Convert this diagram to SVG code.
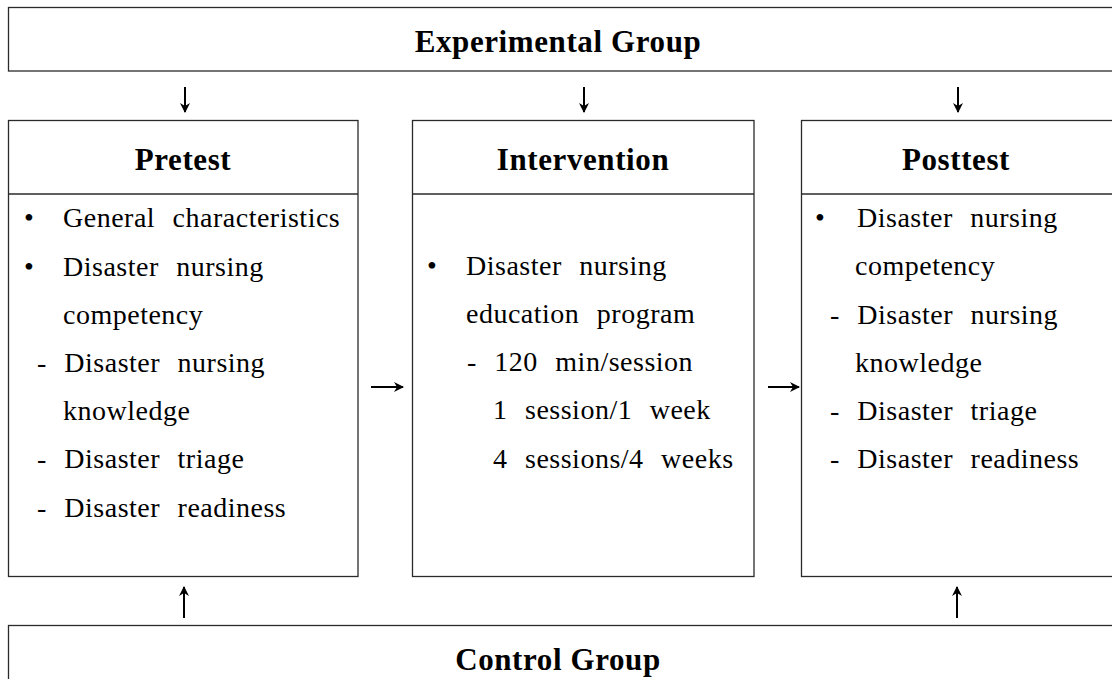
<svg xmlns="http://www.w3.org/2000/svg" width="1112" height="679" viewBox="0 0 1112 679">
<style>
.box{fill:#fff;stroke:#2a2a2a;stroke-width:1.3}
.div{stroke:#2a2a2a;stroke-width:1.3}
.hd{font-family:"Liberation Serif",serif;font-weight:bold;font-size:31px;letter-spacing:0.6px;fill:#000;text-anchor:middle}
.tx{font-family:"Liberation Serif",serif;font-size:28px;fill:#000;letter-spacing:0.5px;word-spacing:10px}
.bl{font-family:"Liberation Serif",serif;font-size:28px;fill:#000}
.arr{stroke:#000;stroke-width:2;fill:none;marker-end:url(#ah)}
</style>
<defs>
<marker id="ah" viewBox="0 0 10 10" refX="9" refY="5" markerWidth="5" markerHeight="5" orient="auto" markerUnits="strokeWidth">
<path d="M0,0 L10,5 L0,10 L3,5 Z" fill="#000"/>
</marker>
</defs>
<rect width="1112" height="679" fill="#fff"/>
<g id="experimental-group">
<rect class="box" x="8.5" y="7.5" width="1110" height="63.5"/>
<text class="hd" x="558" y="52">Experimental Group</text>
</g>
<g id="pretest">
<rect class="box" x="8.5" y="120.5" width="349.5" height="456"/>
<line class="div" x1="8.5" y1="194" x2="358" y2="194"/>
<text class="hd" x="183" y="170">Pretest</text>
<text class="bl" x="24" y="227">•</text>
<text class="tx" x="63" y="227">General characteristics</text>
<text class="bl" x="24" y="276">•</text>
<text class="tx" x="63" y="276">Disaster nursing</text>
<text class="tx" x="63" y="324">competency</text>
<text class="tx" x="37" y="372">- Disaster nursing</text>
<text class="tx" x="63" y="420">knowledge</text>
<text class="tx" x="37" y="468">- Disaster triage</text>
<text class="tx" x="37" y="517">- Disaster readiness</text>
</g>
<g id="intervention">
<rect class="box" x="412.5" y="120.5" width="341.5" height="456"/>
<line class="div" x1="412.5" y1="194" x2="754" y2="194"/>
<text class="hd" x="583" y="170">Intervention</text>
<text class="bl" x="427" y="275">•</text>
<text class="tx" x="466" y="275">Disaster nursing</text>
<text class="tx" x="466" y="323">education program</text>
<text class="tx" x="467" y="371">- 120 min/session</text>
<text class="tx" x="493" y="419">1 session/1 week</text>
<text class="tx" x="493" y="468">4 sessions/4 weeks</text>
</g>
<g id="posttest">
<rect class="box" x="801.5" y="120.5" width="320" height="456"/>
<line class="div" x1="801.5" y1="194" x2="1121" y2="194"/>
<text class="hd" x="956" y="170">Posttest</text>
<text class="bl" x="815" y="227">•</text>
<text class="tx" x="857" y="227">Disaster nursing</text>
<text class="tx" x="855" y="275">competency</text>
<text class="tx" x="830" y="324">- Disaster nursing</text>
<text class="tx" x="855" y="372">knowledge</text>
<text class="tx" x="830" y="420">- Disaster triage</text>
<text class="tx" x="830" y="468">- Disaster readiness</text>
</g>
<g id="control-group">
<rect class="box" x="8.5" y="625.5" width="1110" height="70"/>
<text class="hd" x="558" y="670">Control Group</text>
</g>
<g id="connectors">
<line class="arr" x1="185" y1="87" x2="185" y2="112"/>
<line class="arr" x1="584" y1="87" x2="584" y2="112"/>
<line class="arr" x1="958" y1="87" x2="958" y2="112"/>
<line class="arr" x1="184" y1="618" x2="184" y2="587"/>
<line class="arr" x1="957" y1="618" x2="957" y2="587"/>
<line class="arr" x1="371" y1="387" x2="403" y2="387"/>
<line class="arr" x1="768" y1="387" x2="799" y2="387"/>
</g>
</svg>
